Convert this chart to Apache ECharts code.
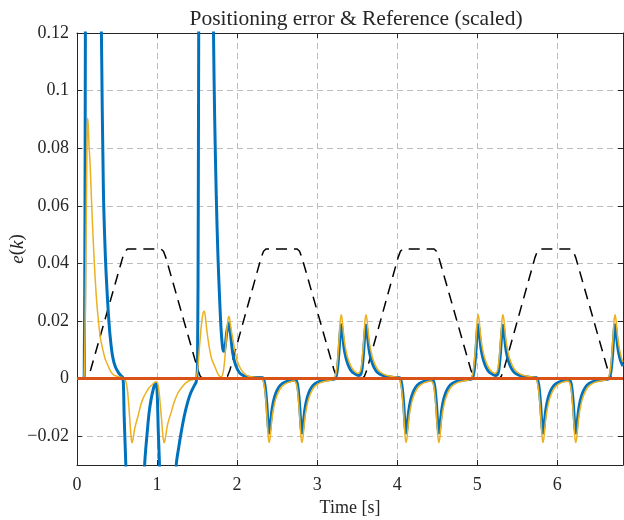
<!DOCTYPE html>
<html><head><meta charset="utf-8">
<script src="https://cdn.jsdelivr.net/npm/echarts@6/dist/echarts.min.js"></script>
<style>html,body{margin:0;padding:0;background:#fff}#c{width:624px;height:520px}</style>
</head><body><div id="c"></div>
<script>
// tick labels
const xTickLabels = [0, 1, 2, 3, 4, 5, 6];
const yTickLabels = [-0.02, 0, 0.02, 0.04, 0.06, 0.08, 0.1, 0.12];

// reference (scaled), [time s, value]
const referenceScaled = [
  [0,0],[0.12,0],[0.14,0.0008],[0.17,0.003],[0.57,0.042],[0.60,0.0442],[0.63,0.045],[1.05,0.045],[1.08,0.0442],[1.11,0.042],[1.51,0.003],[1.54,0.0008],[1.57,0],
  [1.85,0],[1.88,0.0008],[1.91,0.003],[2.30,0.042],[2.33,0.0442],[2.36,0.045],[2.75,0.045],[2.78,0.0442],[2.81,0.042],[3.21,0.003],[3.24,0.0008],[3.27,0],
  [3.56,0],[3.59,0.0008],[3.62,0.003],[4.01,0.042],[4.04,0.0442],[4.07,0.045],[4.46,0.045],[4.49,0.0442],[4.52,0.042],[4.92,0.003],[4.95,0.0008],[4.98,0],
  [5.27,0],[5.30,0.0008],[5.33,0.003],[5.72,0.042],[5.75,0.0442],[5.78,0.045],[6.17,0.045],[6.20,0.0442],[6.23,0.042],[6.63,0.003],[6.66,0.0008],[6.69,0],[6.82,0]
];

// error, blue (thick)
const errorBlue = [
  [0,0],[0.08,0],[0.09,0.001],[0.1,0.06],[0.115,0.2],[0.2,0.45],[0.28,0.2],[0.305,0.12],[0.33,0.065],[0.355,0.042],[0.38,0.028],[0.40,0.0193],[0.42,0.013],[0.445,0.0077],[0.48,0.004],[0.52,0.002],[0.55,0.001],[0.57,0.0005],
  [0.58,-0.002],[0.59,-0.014],[0.61,-0.03],[0.65,-0.07],[0.73,-0.12],[0.80,-0.07],[0.845,-0.03],[0.86,-0.024],[0.88,-0.0177],[0.90,-0.012],[0.925,-0.0073],[0.95,-0.004],[0.97,-0.002],[0.985,-0.0015],
  [1.0,-0.004],[1.015,-0.018],[1.03,-0.03],[1.06,-0.07],[1.13,-0.12],[1.2,-0.07],[1.24,-0.03],[1.27,-0.024],[1.30,-0.0189],[1.34,-0.013],[1.38,-0.0084],[1.42,-0.005],[1.46,-0.0027],[1.49,-0.001],
  [1.505,0.005],[1.515,0.06],[1.53,0.2],[1.6,0.45],[1.68,0.2],[1.705,0.12],[1.72,0.09],[1.74,0.063],[1.76,0.043],[1.78,0.0286],[1.80,0.017],[1.82,0.0105],[1.835,0.0095],[1.85,0.011],[1.87,0.016],[1.895,0.0193],[1.915,0.016],[1.945,0.0089],[1.98,0.0048],[2.03,0.002],[2.09,0.0009],[2.15,0.0005],[2.25,0.0004],[2.32,0.0003],
  [2.34,-0.0011],[2.355,-0.0038],[2.37,-0.0085],[2.38,-0.0129],[2.39,-0.017],[2.40,-0.0189],[2.41,-0.0176],[2.42,-0.0147],[2.435,-0.011],[2.45,-0.0085],[2.47,-0.0062],[2.50,-0.004],[2.54,-0.0023],[2.60,-0.0012],[2.67,-0.0007],[2.73,-0.0005],
  [2.75,-0.0015],[2.765,-0.0042],[2.78,-0.0089],[2.79,-0.0132],[2.80,-0.0172],[2.81,-0.0189],[2.82,-0.0176],[2.83,-0.0147],[2.845,-0.011],[2.86,-0.0085],[2.88,-0.0062],[2.91,-0.004],[2.95,-0.0023],[3.01,-0.0012],[3.08,-0.0007],[3.15,-0.0004],[3.22,-0.0001],
  [3.24,0.0011],[3.255,0.0037],[3.27,0.0084],[3.28,0.0127],[3.29,0.0168],[3.30,0.0187],[3.31,0.0174],[3.32,0.0146],[3.335,0.0108],[3.35,0.0084],[3.37,0.0062],[3.40,0.0039],[3.44,0.0022],[3.50,0.0012],[3.52,0.0011],
  [3.55,0.0019],[3.565,0.0045],[3.58,0.0092],[3.59,0.0134],[3.60,0.017],[3.61,0.0185],[3.62,0.0172],[3.63,0.0144],[3.645,0.0107],[3.66,0.0083],[3.68,0.0061],[3.71,0.0039],[3.75,0.0022],[3.81,0.0012],[3.88,0.0007],[3.96,0.0004],[4.03,0.0003],
  [4.05,-0.0011],[4.065,-0.0038],[4.08,-0.0085],[4.09,-0.0129],[4.10,-0.017],[4.11,-0.0189],[4.12,-0.0176],[4.13,-0.0147],[4.145,-0.011],[4.16,-0.0085],[4.18,-0.0062],[4.21,-0.004],[4.25,-0.0023],[4.31,-0.0012],[4.38,-0.0007],[4.44,-0.0005],
  [4.46,-0.0015],[4.475,-0.0042],[4.49,-0.0089],[4.50,-0.0132],[4.51,-0.0172],[4.52,-0.0189],[4.53,-0.0176],[4.54,-0.0147],[4.555,-0.011],[4.57,-0.0085],[4.59,-0.0062],[4.62,-0.004],[4.66,-0.0023],[4.72,-0.0012],[4.79,-0.0007],[4.86,-0.0004],[4.93,-0.0001],
  [4.95,0.0011],[4.965,0.0037],[4.98,0.0084],[4.99,0.0127],[5.00,0.0168],[5.01,0.0187],[5.02,0.0174],[5.03,0.0146],[5.045,0.0108],[5.06,0.0084],[5.08,0.0062],[5.11,0.0039],[5.15,0.0022],[5.21,0.0012],[5.23,0.0011],
  [5.26,0.0019],[5.275,0.0045],[5.29,0.0092],[5.30,0.0134],[5.31,0.017],[5.32,0.0185],[5.33,0.0172],[5.34,0.0144],[5.355,0.0107],[5.37,0.0083],[5.39,0.0061],[5.42,0.0039],[5.46,0.0022],[5.52,0.0012],[5.59,0.0007],[5.67,0.0004],[5.74,0.0003],
  [5.76,-0.0011],[5.775,-0.0038],[5.79,-0.0085],[5.80,-0.0129],[5.81,-0.017],[5.82,-0.0189],[5.83,-0.0176],[5.84,-0.0147],[5.855,-0.011],[5.87,-0.0085],[5.89,-0.0062],[5.92,-0.004],[5.96,-0.0023],[6.02,-0.0012],[6.09,-0.0007],[6.15,-0.0005],
  [6.17,-0.0015],[6.185,-0.0042],[6.20,-0.0089],[6.21,-0.0132],[6.22,-0.0172],[6.23,-0.0189],[6.24,-0.0176],[6.25,-0.0147],[6.265,-0.011],[6.28,-0.0085],[6.30,-0.0062],[6.33,-0.004],[6.37,-0.0023],[6.43,-0.0012],[6.50,-0.0007],[6.57,-0.0004],[6.64,-0.0001],
  [6.66,0.0011],[6.675,0.0037],[6.69,0.0084],[6.70,0.0127],[6.71,0.0168],[6.72,0.0187],[6.73,0.0174],[6.74,0.0146],[6.755,0.0108],[6.77,0.0084],[6.79,0.0062],[6.82,0.0043]
];

// error, orange (thin)
const errorOrange = [
  [0,0],[0.08,0],[0.09,0.002],[0.10,0.015],[0.11,0.04],[0.12,0.07],[0.128,0.086],[0.133,0.0905],[0.14,0.088],[0.15,0.081],[0.163,0.0749],[0.1875,0.0575],[0.216,0.0402],[0.24,0.029],[0.258,0.0228],[0.29,0.0145],[0.32,0.0104],[0.35,0.007],[0.383,0.0048],[0.42,0.0025],[0.46,0.0012],[0.53,0.0006],
  [0.59,0.0001],[0.61,-0.001],[0.63,-0.004],[0.65,-0.0105],[0.665,-0.0165],[0.678,-0.021],[0.688,-0.0223],[0.70,-0.021],[0.72,-0.0175],[0.74,-0.0152],[0.76,-0.0132],[0.80,-0.0088],[0.83,-0.0066],[0.86,-0.005],[0.90,-0.0032],[0.945,-0.002],[0.98,-0.0012],
  [1.0,-0.0012],[1.02,-0.0035],[1.04,-0.009],[1.06,-0.0155],[1.075,-0.0205],[1.09,-0.0223],[1.105,-0.0205],[1.125,-0.0168],[1.15,-0.014],[1.175,-0.0119],[1.21,-0.0085],[1.26,-0.005],[1.31,-0.003],[1.36,-0.0015],[1.42,-0.0005],[1.47,-0.0002],
  [1.49,0.0005],[1.51,0.004],[1.53,0.011],[1.555,0.019],[1.575,0.0228],[1.59,0.0234],[1.605,0.021],[1.625,0.016],[1.65,0.0112],[1.68,0.007],[1.72,0.0043],[1.75,0.0022],[1.78,0.0008],[1.80,0.0006],
  [1.82,0.0015],[1.84,0.005],[1.86,0.012],[1.875,0.018],[1.89,0.0212],[1.90,0.0216],[1.915,0.019],[1.935,0.0155],[1.97,0.010],[2.0,0.0062],[2.05,0.0031],[2.10,0.0015],[2.15,0.0007],[2.25,0.0004],[2.31,0.0002],
  [2.33,-0.0013],[2.348,-0.0044],[2.365,-0.010],[2.377,-0.0151],[2.388,-0.020],[2.40,-0.0222],[2.412,-0.0206],[2.423,-0.0173],[2.44,-0.0129],[2.458,-0.010],[2.48,-0.0073],[2.515,-0.0047],[2.56,-0.0027],[2.63,-0.0014],[2.71,-0.0008],
  [2.74,-0.0019],[2.758,-0.005],[2.775,-0.0106],[2.787,-0.0156],[2.798,-0.0203],[2.81,-0.0222],[2.822,-0.0206],[2.833,-0.0173],[2.85,-0.0129],[2.868,-0.010],[2.89,-0.0073],[2.925,-0.0047],[2.97,-0.0027],[3.04,-0.0014],[3.12,-0.0008],[3.20,-0.0003],
  [3.23,0.0013],[3.248,0.0044],[3.265,0.010],[3.277,0.0151],[3.288,0.020],[3.30,0.0222],[3.312,0.0206],[3.323,0.0173],[3.34,0.0129],[3.358,0.010],[3.38,0.0073],[3.415,0.0047],[3.46,0.0027],[3.51,0.0018],
  [3.54,0.0026],[3.558,0.0056],[3.575,0.011],[3.587,0.0158],[3.598,0.0203],[3.61,0.0222],[3.622,0.0206],[3.633,0.0173],[3.65,0.0129],[3.668,0.010],[3.69,0.0073],[3.725,0.0047],[3.77,0.0027],[3.84,0.0014],[3.92,0.0008],[4.02,0.0003],
  [4.04,-0.0013],[4.058,-0.0044],[4.075,-0.010],[4.087,-0.0151],[4.098,-0.020],[4.11,-0.0222],[4.122,-0.0206],[4.133,-0.0173],[4.15,-0.0129],[4.168,-0.010],[4.19,-0.0073],[4.225,-0.0047],[4.27,-0.0027],[4.34,-0.0014],[4.42,-0.0008],
  [4.45,-0.0019],[4.468,-0.005],[4.485,-0.0106],[4.497,-0.0156],[4.508,-0.0203],[4.52,-0.0222],[4.532,-0.0206],[4.543,-0.0173],[4.56,-0.0129],[4.578,-0.010],[4.60,-0.0073],[4.635,-0.0047],[4.68,-0.0027],[4.75,-0.0014],[4.83,-0.0008],[4.91,-0.0003],
  [4.94,0.0013],[4.958,0.0044],[4.975,0.010],[4.987,0.0151],[4.998,0.020],[5.01,0.0222],[5.022,0.0206],[5.033,0.0173],[5.05,0.0129],[5.068,0.010],[5.09,0.0073],[5.125,0.0047],[5.17,0.0027],[5.22,0.0018],
  [5.25,0.0026],[5.268,0.0056],[5.285,0.011],[5.297,0.0158],[5.308,0.0203],[5.32,0.0222],[5.332,0.0206],[5.343,0.0173],[5.36,0.0129],[5.378,0.010],[5.40,0.0073],[5.435,0.0047],[5.48,0.0027],[5.55,0.0014],[5.63,0.0008],[5.73,0.0003],
  [5.75,-0.0013],[5.768,-0.0044],[5.785,-0.010],[5.797,-0.0151],[5.808,-0.020],[5.82,-0.0222],[5.832,-0.0206],[5.843,-0.0173],[5.86,-0.0129],[5.878,-0.010],[5.90,-0.0073],[5.935,-0.0047],[5.98,-0.0027],[6.05,-0.0014],[6.13,-0.0008],
  [6.16,-0.0019],[6.178,-0.005],[6.195,-0.0106],[6.207,-0.0156],[6.218,-0.0203],[6.23,-0.0222],[6.242,-0.0206],[6.253,-0.0173],[6.27,-0.0129],[6.288,-0.010],[6.31,-0.0073],[6.345,-0.0047],[6.39,-0.0027],[6.46,-0.0014],[6.54,-0.0008],[6.62,-0.0003],
  [6.65,0.0013],[6.668,0.0044],[6.685,0.010],[6.697,0.0151],[6.708,0.020],[6.72,0.0222],[6.732,0.0206],[6.743,0.0173],[6.76,0.0129],[6.778,0.010],[6.80,0.0073],[6.82,0.0058]
];

// error, red (thick, flat)
const errorRed = [[0,0],[6.82,0]];

const FONT = '"Liberation Serif", "DejaVu Serif", serif';
const INK = '#262626';
const X_MAX = 6.82, Y_MIN = -0.03, Y_MAX = 0.12;

function fmtY(v) {
  const hit = yTickLabels.some(t => Math.abs(t - v) < 1e-9);
  if (!hit) return '';
  if (Math.abs(v) < 1e-9) return '0';
  return (v < 0 ? '\u2212' : '') + String(+Math.abs(v).toFixed(2));
}
function fmtX(v) {
  return xTickLabels.some(t => Math.abs(t - v) < 1e-9) ? String(Math.round(v)) : '';
}

const axisLineStyle = { show: true, onZero: false, lineStyle: { color: INK, width: 1 } };
const tickStyle = { show: true, inside: true, length: 5, lineStyle: { color: INK, width: 1 } };
const gridLine = { show: true, lineStyle: { color: '#bdbdbd', width: 1, type: [6, 4] } };

const chart = echarts.init(document.getElementById('c'), null, { renderer: 'canvas' });
chart.setOption({
  animation: false,
  backgroundColor: '#ffffff',
  title: {
    text: 'Positioning error & Reference (scaled)',
    left: 351, top: 3, textAlign: 'center',
    textStyle: { fontFamily: FONT, fontSize: 21.5, fontWeight: 'normal', color: INK }
  },
  grid: { left: 77, right: 1, top: 33, bottom: 55, containLabel: false, outerBoundsMode: 'none' },
  xAxis: [
    {
      type: 'value', min: 0, max: X_MAX, interval: 1, position: 'bottom',
      axisLine: axisLineStyle, axisTick: tickStyle, splitLine: gridLine,
      axisLabel: { color: INK, fontFamily: FONT, fontSize: 18, margin: 11, showMaxLabel: false, formatter: fmtX },
      name: 'Time [s]', nameLocation: 'middle', nameGap: 34, nameMoveOverlap: false,
      nameTextStyle: { color: INK, fontFamily: FONT, fontSize: 18 }
    },
    {
      type: 'value', min: 0, max: X_MAX, interval: 1, position: 'top',
      axisLine: axisLineStyle, axisTick: tickStyle, splitLine: { show: false }, axisLabel: { show: false }
    }
  ],
  yAxis: [
    {
      type: 'value', min: Y_MIN, max: Y_MAX, splitNumber: 7, position: 'left',
      axisLine: axisLineStyle, axisTick: tickStyle, splitLine: gridLine,
      axisLabel: { color: INK, fontFamily: FONT, fontSize: 18, margin: 8, showMinLabel: false, formatter: fmtY },
      name: '{i|e}({i|k})', nameLocation: 'middle', nameGap: 50, nameRotate: 90, nameMoveOverlap: false,
      nameTextStyle: { color: INK, fontFamily: FONT, fontSize: 19,
        rich: { i: { fontStyle: 'italic', fontFamily: FONT, fontSize: 19, color: INK } } }
    },
    {
      type: 'value', min: Y_MIN, max: Y_MAX, splitNumber: 7, position: 'right',
      axisLine: axisLineStyle, axisTick: tickStyle, splitLine: { show: false }, axisLabel: { show: false }
    }
  ],
  series: [
    { name: 'Reference (scaled)', type: 'line', data: referenceScaled, showSymbol: false, silent: true,
      lineStyle: { color: '#000000', width: 1.5, type: [11, 7] } },
    { name: 'Error 1', type: 'line', data: errorBlue, showSymbol: false, silent: true, smooth: 0.3,
      lineStyle: { color: '#0072BD', width: 3 } },
    { name: 'Error 2', type: 'line', data: errorOrange, showSymbol: false, silent: true, smooth: 0.3,
      lineStyle: { color: '#EDB120', width: 1.5 } },
    { name: 'Error 3', type: 'line', data: errorRed, showSymbol: false, silent: true,
      lineStyle: { color: '#D95319', width: 3 } }
  ]
});
</script>
</body></html>
